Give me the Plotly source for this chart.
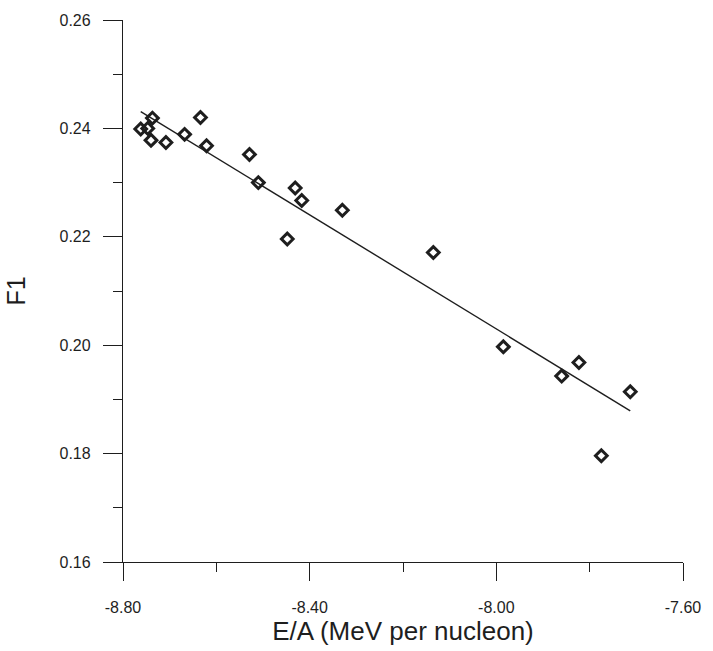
import plotly.graph_objects as go

# Binding energy per nucleon (MeV) and the F1 coefficient
energy = [-8.762, -8.747, -8.737, -8.740, -8.708, -8.668, -8.634, -8.621,
          -8.529, -8.510, -8.431, -8.417, -8.330, -8.448, -8.135, -7.985,
          -7.823, -7.860, -7.713, -7.775]
f1 = [0.2399, 0.2400, 0.2419, 0.2378, 0.2374, 0.2389, 0.2420, 0.2368,
      0.2352, 0.2300, 0.2290, 0.2267, 0.2249, 0.2196, 0.2171, 0.1997,
      0.1968, 0.1943, 0.1914, 0.1796]

# Linear fit line end points
fit_energy = [-8.762, -7.713]
fit_f1 = [0.2431, 0.1879]

x_ticks = [-8.80, -8.40, -8.00, -7.60]
x_labels = ["-8.80", "-8.40", "-8.00", "-7.60"]
y_ticks = [0.16, 0.18, 0.20, 0.22, 0.24, 0.26]
y_labels = ["0.16", "0.18", "0.20", "0.22", "0.24", "0.26"]

ink = "#1e1e1e"
font = "Liberation Sans, Arial, sans-serif"

fig = go.Figure()
fig.add_trace(go.Scatter(
    x=fit_energy, y=fit_f1, mode="lines",
    line=dict(color=ink, width=1.4), hoverinfo="skip", showlegend=False,
))
fig.add_trace(go.Scatter(
    x=energy, y=f1, mode="markers",
    marker=dict(symbol="diamond-open", size=9, color=ink,
                line=dict(color=ink, width=3)),
    showlegend=False,
))

axis_common = dict(
    showgrid=False, zeroline=False, showline=True, linecolor=ink,
    linewidth=1.3, ticks="outside", tickcolor=ink, tickwidth=1.2,
    tickfont=dict(family=font, size=16, color=ink),
)

fig.update_xaxes(
    range=[-8.8, -7.6], tickvals=x_ticks, ticktext=x_labels, ticklen=18,
    minor=dict(dtick=0.2, tick0=-8.8, ticklen=9, ticks="outside",
               tickcolor=ink, tickwidth=1.2),
    ticklabelstandoff=13,
    title=dict(text="E/A (MeV per nucleon)",
               font=dict(family=font, size=26, color=ink), standoff=4),
    **axis_common,
)
fig.update_yaxes(
    range=[0.16, 0.26], tickvals=y_ticks, ticktext=y_labels, ticklen=19,
    minor=dict(dtick=0.01, tick0=0.16, ticklen=9, ticks="outside",
               tickcolor=ink, tickwidth=1.2),
    ticklabelstandoff=9,
    title=dict(text="F1", font=dict(family=font, size=25, color=ink),
               standoff=26),
    **axis_common,
)

fig.update_layout(
    width=713, height=651,
    margin=dict(l=123, r=23, t=19, b=77),
    paper_bgcolor="white", plot_bgcolor="white",
)

fig.write_html("out.html")
